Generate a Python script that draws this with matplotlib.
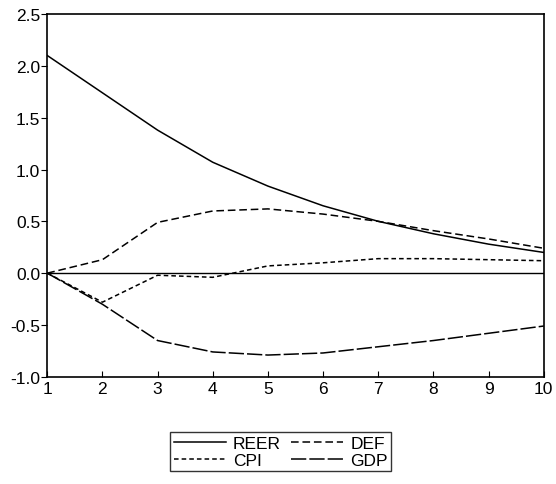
import numpy as np
import matplotlib.pyplot as plt

plt.rcParams["font.family"] = "Liberation Sans"

periods = np.arange(1, 11)
reer = [2.10, 1.74, 1.38, 1.07, 0.84, 0.65, 0.50, 0.38, 0.28, 0.20]
deff = [0.00, 0.13, 0.49, 0.60, 0.62, 0.57, 0.50, 0.41, 0.33, 0.24]
cpi = [0.00, -0.28, -0.02, -0.04, 0.07, 0.10, 0.14, 0.14, 0.13, 0.12]
gdp = [0.00, -0.30, -0.65, -0.76, -0.79, -0.77, -0.71, -0.65, -0.58, -0.51]

fig = plt.figure(figsize=(5.56, 4.85), dpi=100)
ax = fig.add_axes([0.085, 0.221, 0.893, 0.748])

ax.axhline(0, color='black', lw=1.0)
l1, = ax.plot(periods, reer, color='black', lw=1.1)
l2, = ax.plot(periods, deff, color='black', lw=1.1, dashes=(5, 2.5))
l3, = ax.plot(periods, cpi, color='black', lw=1.1, dashes=(3, 2))
l4, = ax.plot(periods, gdp, color='black', lw=1.1, dashes=(10, 2))

ax.set_xlim(1, 10)
ax.set_ylim(-1.0, 2.5)
ax.set_xticks(periods)
ax.set_yticks(np.arange(-1.0, 2.51, 0.5))
ax.set_yticklabels(['%.1f' % v for v in np.arange(-1.0, 2.51, 0.5)])
ax.tick_params(axis='y', direction='out', length=4, labelsize=12.5, pad=1)
ax.tick_params(axis='x', direction='in', length=4, labelsize=12.5, pad=3)
for s in ax.spines.values():
    s.set_linewidth(1.2)

# ncol=2 fills by column, so order gives REER/DEF on the first row
ax.legend([l1, l3, l2, l4], ['REER', 'CPI', 'DEF', 'GDP'],
          loc='center', bbox_to_anchor=(0.505, 0.066), bbox_transform=fig.transFigure,
          ncol=2, fontsize=12.5, frameon=True, fancybox=False, edgecolor='black',
          handlelength=3.0, handletextpad=0.4, columnspacing=0.6,
          labelspacing=0.1, borderpad=0.2)

plt.savefig('out.png', dpi=100)
